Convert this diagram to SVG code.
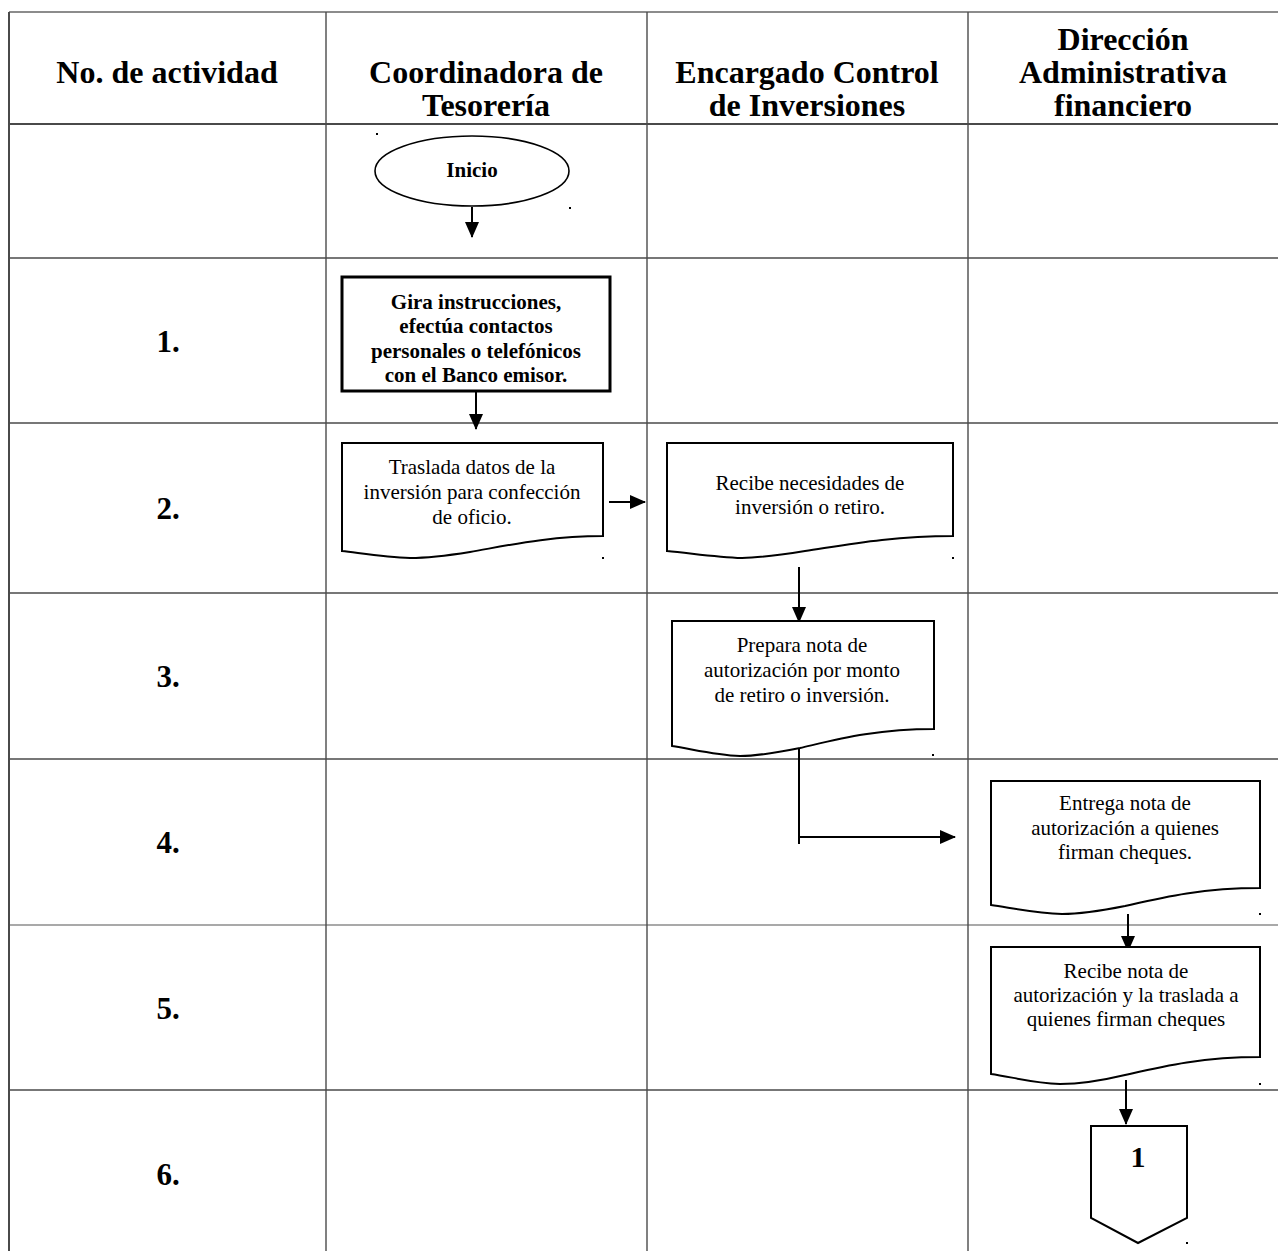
<svg xmlns="http://www.w3.org/2000/svg" width="1278" height="1251" viewBox="0 0 1278 1251">
  <style>
    .grid { stroke: #4a4a4a; stroke-width: 1.4; fill: none; }
    .grid-light { stroke: #8c8c8c; stroke-width: 2; fill: none; }
    .head { font-family: "Liberation Serif", "Times New Roman", serif; font-weight: bold; font-size: 32px; fill: #000; text-anchor: middle; }
    .num { font-family: "Liberation Serif", "Times New Roman", serif; font-weight: bold; font-size: 31px; fill: #000; text-anchor: middle; }
    .txt { font-family: "Liberation Serif", "Times New Roman", serif; font-size: 21px; fill: #000; text-anchor: middle; }
    .btxt { font-family: "Liberation Serif", "Times New Roman", serif; font-weight: bold; font-size: 21px; fill: #000; text-anchor: middle; }
    .shape { fill: #fff; stroke: #000; stroke-width: 2; }
    .shape-bold { fill: #fff; stroke: #000; stroke-width: 3; }
    .conn { stroke: #000; stroke-width: 2; fill: none; }
    .dot { fill: #000; }
  </style>
  <defs>
    <marker id="arrow" markerWidth="16" markerHeight="14" refX="15" refY="7" orient="auto" markerUnits="userSpaceOnUse">
      <path d="M0,0 L16,7 L0,14 Z" fill="#000"/>
    </marker>
  </defs>

  <rect width="1278" height="1251" fill="#fff"/>

  <!-- table grid -->
  <g id="grid">
    <line class="grid-light" x1="9" y1="12" x2="1278" y2="12"/>
    <line class="grid" x1="9" y1="124" x2="1278" y2="124" style="stroke-width:2"/>
    <line class="grid" x1="9" y1="258" x2="1278" y2="258"/>
    <line class="grid" x1="9" y1="423" x2="1278" y2="423"/>
    <line class="grid" x1="9" y1="593" x2="1278" y2="593"/>
    <line class="grid" x1="9" y1="759" x2="1278" y2="759"/>
    <line class="grid-light" x1="9" y1="925" x2="1278" y2="925" style="stroke-width:1.6"/>
    <line class="grid" x1="9" y1="1090" x2="1278" y2="1090"/>
    <line class="grid" x1="9" y1="12" x2="9" y2="1251" style="stroke-width:2"/>
    <line class="grid" x1="326" y1="12" x2="326" y2="1251"/>
    <line class="grid" x1="647" y1="12" x2="647" y2="1251"/>
    <line class="grid" x1="968" y1="12" x2="968" y2="1251"/>
  </g>

  <!-- column headers -->
  <g id="headers">
    <text class="head" x="167" y="83">No. de actividad</text>
    <text class="head" x="486" y="83">Coordinadora de</text>
    <text class="head" x="486" y="116">Tesorería</text>
    <text class="head" x="807" y="83">Encargado Control</text>
    <text class="head" x="807" y="116">de Inversiones</text>
    <text class="head" x="1123" y="50">Dirección</text>
    <text class="head" x="1123" y="83">Administrativa</text>
    <text class="head" x="1123" y="116">financiero</text>
  </g>

  <!-- activity numbers -->
  <g id="numbers">
    <text class="num" x="168" y="352">1.</text>
    <text class="num" x="168" y="519">2.</text>
    <text class="num" x="168" y="687">3.</text>
    <text class="num" x="168" y="853">4.</text>
    <text class="num" x="168" y="1019">5.</text>
    <text class="num" x="168" y="1185">6.</text>
  </g>

  <!-- connectors -->
  <g id="connectors">
    <line class="conn" x1="472" y1="207" x2="472" y2="237" marker-end="url(#arrow)"/>
    <line class="conn" x1="476" y1="391" x2="476" y2="429" marker-end="url(#arrow)"/>
    <line class="conn" x1="609" y1="502" x2="645" y2="502" marker-end="url(#arrow)"/>
    <line class="conn" x1="799" y1="567" x2="799" y2="622" marker-end="url(#arrow)"/>
    <line class="conn" x1="799" y1="747" x2="799" y2="844"/>
    <line class="conn" x1="799" y1="837" x2="955" y2="837" marker-end="url(#arrow)"/>
    <line class="conn" x1="1128" y1="914" x2="1128" y2="951" marker-end="url(#arrow)"/>
    <line class="conn" x1="1126" y1="1080" x2="1126" y2="1124" marker-end="url(#arrow)"/>
  </g>

  <!-- start -->
  <g id="node-inicio">
    <ellipse class="shape" cx="472" cy="171" rx="97" ry="35" style="stroke-width:1.6"/>
    <text class="btxt" x="472" y="177">Inicio</text>
  </g>

  <!-- activity 1 -->
  <g id="node-1">
    <rect class="shape-bold" x="342" y="277" width="268" height="114"/>
    <text class="btxt" x="476" y="309">Gira instrucciones,</text>
    <text class="btxt" x="476" y="333">efectúa contactos</text>
    <text class="btxt" x="476" y="358">personales o telefónicos</text>
    <text class="btxt" x="476" y="382">con el Banco emisor.</text>
  </g>

  <!-- activity 2: documents -->
  <g id="node-2a">
    <path class="shape" d="M342,443 H603 V536 C548,536 505,546 470,552 C445,556 425,558 410,558 C385,557 360,553 342,551 Z"/>
    <text class="txt" x="472" y="474">Traslada datos de la</text>
    <text class="txt" x="472" y="499">inversión para confección</text>
    <text class="txt" x="472" y="524">de oficio.</text>
  </g>
  <g id="node-2b">
    <path class="shape" d="M667,443 H953 V536 C890,536 845,545 805,551 C780,555 760,558 742,558 C715,557 690,553 667,551 Z"/>
    <text class="txt" x="810" y="490">Recibe necesidades de</text>
    <text class="txt" x="810" y="514">inversión o retiro.</text>
  </g>

  <!-- activity 3 -->
  <g id="node-3">
    <path class="shape" d="M672,621 H934 V729 C875,729 835,740 800,748 C775,753 757,756 740,756 C715,755 692,749 672,746 Z"/>
    <text class="txt" x="802" y="652">Prepara nota de</text>
    <text class="txt" x="802" y="677">autorización por monto</text>
    <text class="txt" x="802" y="702">de retiro o inversión.</text>
  </g>

  <!-- activity 4 -->
  <g id="node-4">
    <path class="shape" d="M991,781 H1260 V888 C1200,888 1160,898 1125,906 C1100,911 1080,914 1062,914 C1035,913 1012,908 991,905 Z"/>
    <text class="txt" x="1125" y="810">Entrega nota de</text>
    <text class="txt" x="1125" y="835">autorización a quienes</text>
    <text class="txt" x="1125" y="859">firman cheques.</text>
  </g>

  <!-- activity 5 -->
  <g id="node-5">
    <path class="shape" d="M991,947 H1260 V1057 C1200,1057 1160,1067 1125,1075 C1100,1081 1078,1084 1060,1084 C1033,1083 1012,1077 991,1074 Z"/>
    <text class="txt" x="1126" y="978">Recibe nota de</text>
    <text class="txt" x="1126" y="1002">autorización y la traslada a</text>
    <text class="txt" x="1126" y="1026">quienes firman cheques</text>
  </g>

  <!-- activity 6: off-page connector -->
  <g id="node-6">
    <path class="shape" d="M1091,1126 H1187 V1218 L1138,1243 L1091,1218 Z"/>
    <text class="num" x="1138" y="1167" style="font-size:30px">1</text>
  </g>

  <!-- small anchor marks -->
  <g id="marks">
    <rect class="dot" x="376" y="133" width="2" height="2"/>
    <rect class="dot" x="569" y="207" width="2" height="2"/>
    <rect class="dot" x="602" y="557" width="2" height="2"/>
    <rect class="dot" x="952" y="557" width="2" height="2"/>
    <rect class="dot" x="932" y="754" width="2" height="2"/>
    <rect class="dot" x="1259" y="913" width="2" height="2"/>
    <rect class="dot" x="1259" y="1083" width="2" height="2"/>
    <rect class="dot" x="1186" y="1242" width="2" height="2"/>
  </g>
</svg>
